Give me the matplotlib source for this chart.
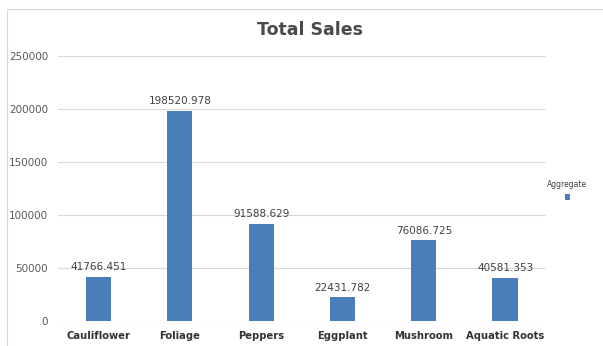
import matplotlib.pyplot as plt
from matplotlib.patches import Rectangle

categories = ['Cauliflower', 'Foliage', 'Peppers', 'Eggplant', 'Mushroom', 'Aquatic Roots']
totals = [41766.451, 198520.978, 91588.629, 22431.782, 76086.725, 40581.353]
yticks = [0, 50000, 100000, 150000, 200000, 250000]

bar_color = '#4a7ebb'

fig = plt.figure(figsize=(6.03, 3.46), dpi=100)
fig.patch.set_facecolor('white')

# thin frame around the chart area
fig.patches.append(Rectangle((0.011, -0.01), 1.0, 0.985, transform=fig.transFigure,
                             fill=False, edgecolor='#d9d9d9', linewidth=0.8))

ax = fig.add_axes([0.096, 0.072, 0.809, 0.766])
x = range(len(categories))
bars = ax.bar(x, totals, width=0.31, color=bar_color, label='Aggregate', zorder=3)

for b, v in zip(bars, totals):
    ax.text(b.get_x() + b.get_width() / 2, v + 4500, f'{v:.3f}',
            ha='center', va='bottom', fontsize=7.5, color='#404040')

ax.set_ylim(0, 250000)
ax.set_xlim(-0.5, len(categories) - 0.5)
ax.set_yticks(yticks)
ax.set_yticklabels([str(t) for t in yticks])
ax.set_xticks(list(x))
ax.set_xticklabels(categories, fontweight='bold')
ax.tick_params(axis='y', length=0, pad=7, labelsize=7.5, labelcolor='#595959')
ax.tick_params(axis='x', length=0, pad=7, labelsize=7.2, labelcolor='#333333')
ax.grid(axis='y', color='#d9d9d9', linewidth=0.8, zorder=0)
for s in ax.spines.values():
    s.set_visible(False)

fig.text(0.514, 0.913, 'Total Sales', ha='center', va='center',
         fontsize=12.5, fontweight='bold', color='#4a4a4a')

# legend: label above the marker
fig.text(0.94, 0.468, 'Aggregate', ha='center', va='center', fontsize=5.5, color='#404040')
fig.patches.append(Rectangle((0.937, 0.423), 0.009, 0.016, transform=fig.transFigure,
                             facecolor=bar_color, edgecolor='none'))

fig.savefig('out.png', dpi=100)
